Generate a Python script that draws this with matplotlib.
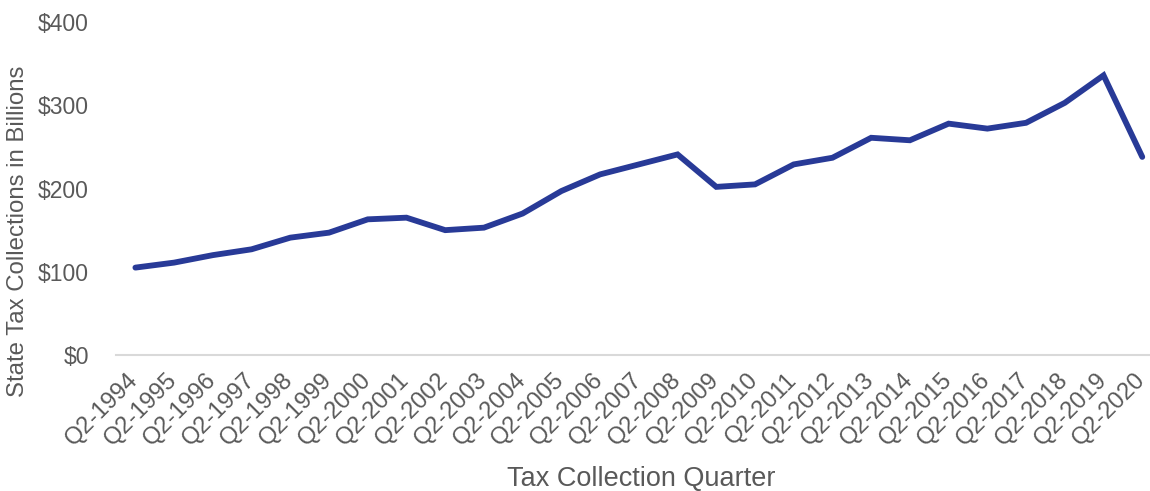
import matplotlib
matplotlib.use("Agg")
import matplotlib.pyplot as plt
import matplotlib.transforms as mtransforms
import numpy as np

quarters = [f"Q2-{y}" for y in range(1994, 2021)]
collections = [105, 111, 120, 127, 141, 147, 163, 165, 150, 153, 170, 197, 217, 229, 241,
               202, 205, 229, 237, 261, 258, 278, 272, 279, 303, 336, 238]
yticks = [0, 100, 200, 300, 400]

plt.rcParams["font.family"] = ["Liberation Sans", "DejaVu Sans"]
grey = "#595959"

fig = plt.figure(figsize=(11.5, 4.91), dpi=100)
ax = fig.add_axes([0.1009, 0.277, 0.8991, 0.678])

x = np.arange(len(quarters))
ax.plot(x, collections, color="#283A97", lw=4.2, solid_capstyle="round", solid_joinstyle="miter")

ax.set_xlim(-0.5, 26.2)
ax.set_ylim(0, 400)
ax.set_yticks(yticks)
ax.set_yticklabels([f"${v}" for v in yticks], fontsize=16.5, color=grey)
ax.set_xticks(x)
ax.set_xticklabels(quarters, rotation=45, ha="right", rotation_mode="anchor", fontsize=17.2, color=grey)
ax.tick_params(axis="both", length=0)
ax.tick_params(axis="y", pad=19.5)
ax.tick_params(axis="x", pad=10)
shift = mtransforms.ScaledTranslation(-0.08, 0, fig.dpi_scale_trans)
for lab in ax.get_xticklabels():
    lab.set_transform(lab.get_transform() + shift)

for s in ["top", "right", "left"]:
    ax.spines[s].set_visible(False)
ax.spines["bottom"].set_color("#d9d9d9")
ax.spines["bottom"].set_linewidth(1.5)

ax.set_ylabel("State Tax Collections in Billions", fontsize=17.3, color=grey)
ax.set_xlabel("Tax Collection Quarter", fontsize=19.5, color=grey)
ax.yaxis.set_label_coords(-0.084, 0.372)
ax.xaxis.set_label_coords(0.508, -0.333)

fig.savefig("out.png", dpi=100)
